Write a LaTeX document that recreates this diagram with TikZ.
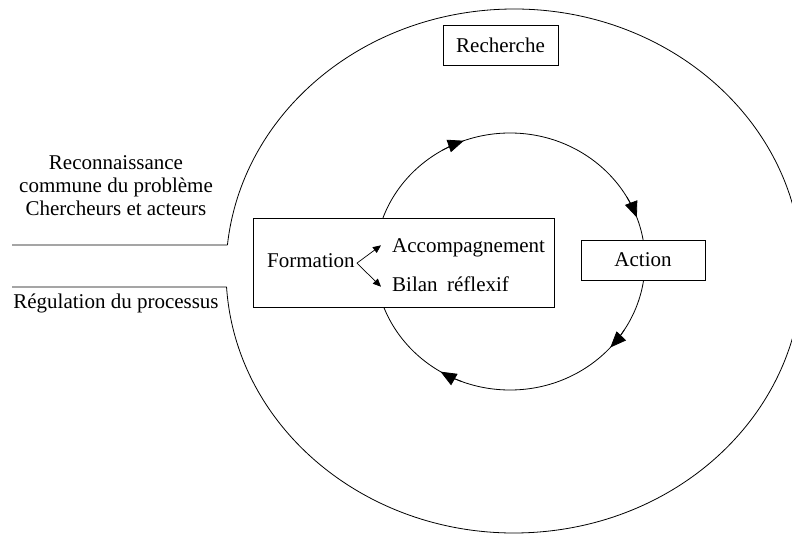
\documentclass[tikz,border=0pt]{standalone}
\usepackage{fontspec}
\setmainfont{Liberation Serif}
\usetikzlibrary{arrows.meta,calc}
\begin{document}
\begin{tikzpicture}[x=1pt,y=1pt,font=\fontsize{21}{23}\selectfont]
\tikzset{
  box/.style={draw,fill=white,line width=0.9pt,inner sep=0pt},
  lbl/.style={inner sep=0pt},
  ring/.style={line width=0.8pt},
  cyctip/.style={ring,-{Triangle[length=16pt,width=13pt]}},
  forktip/.style={line width=0.7pt,-{Triangle[length=8pt,width=7pt]}},
}
\useasboundingbox (0,0) rectangle (792,536);
\clip (0,0) rectangle (792,536);
% outer ring (open on the left)
\coordinate (OC) at (514,265);
\coordinate (ju) at ([shift={(174.3:288pt and 262pt)}]OC);
\coordinate (jl) at ([shift={(183.5:288pt and 262pt)}]OC);
\draw[ring] (jl) arc[start angle=183.5,end angle=534.3,x radius=288pt,y radius=262pt];
\coordinate (lu) at (12,291);
\coordinate (ll) at (12,249);
\draw[ring] (lu) -- (ju);
\draw[ring] (ll) -- (jl);
% inner cycle
\coordinate (IC) at (510,274.5);
\draw[ring] (IC) ellipse[x radius=135pt,y radius=128.5pt];
\draw[cyctip] ([shift={(120:135pt and 128.5pt)}]IC) arc[start angle=120,end angle=110,x radius=135pt,y radius=128.5pt];
\draw[cyctip] ([shift={(30:135pt and 128.5pt)}]IC) arc[start angle=30,end angle=20,x radius=135pt,y radius=128.5pt];
\draw[cyctip] ([shift={(-32:135pt and 128.5pt)}]IC) arc[start angle=-32,end angle=-42,x radius=135pt,y radius=128.5pt];
\draw[cyctip] ([shift={(249:135pt and 128.5pt)}]IC) arc[start angle=249,end angle=239,x radius=135pt,y radius=128.5pt];
% boxes
\node[box,minimum width=115pt,minimum height=40pt] (rech) at (500.5,491) {Recherche};
\node[box,minimum width=124pt,minimum height=40pt] (act) at (643,276) {Action};
\node[box,minimum width=301pt,minimum height=89pt] (fbox) at (403.5,273.5) {};
\node[lbl,anchor=base west] (form) at (267,268) {Formation};
\node[lbl,anchor=base west] (acc) at (392,283) {Accompagnement};
\node[lbl,anchor=base west] (bil) at (392,244) {Bilan\hspace{0.45em}réflexif};
\coordinate (fork) at ([xshift=2pt,yshift=-2pt]form.east);
\draw[forktip] (fork) -- ([xshift=-11pt,yshift=3pt]acc.west);
\draw[forktip] (fork) -- ([xshift=-11pt,yshift=-2pt]bil.west);
% left texts
\node[lbl,anchor=base] (l1) at (116,366) {Reconnaissance};
\node[lbl,anchor=base] (l2) at (116,343) {commune du problème};
\node[lbl,anchor=base] (l3) at (116,320) {Chercheurs et acteurs};
\node[lbl,anchor=base] (l4) at (116,228) {Régulation du processus};
\end{tikzpicture}
\end{document}
